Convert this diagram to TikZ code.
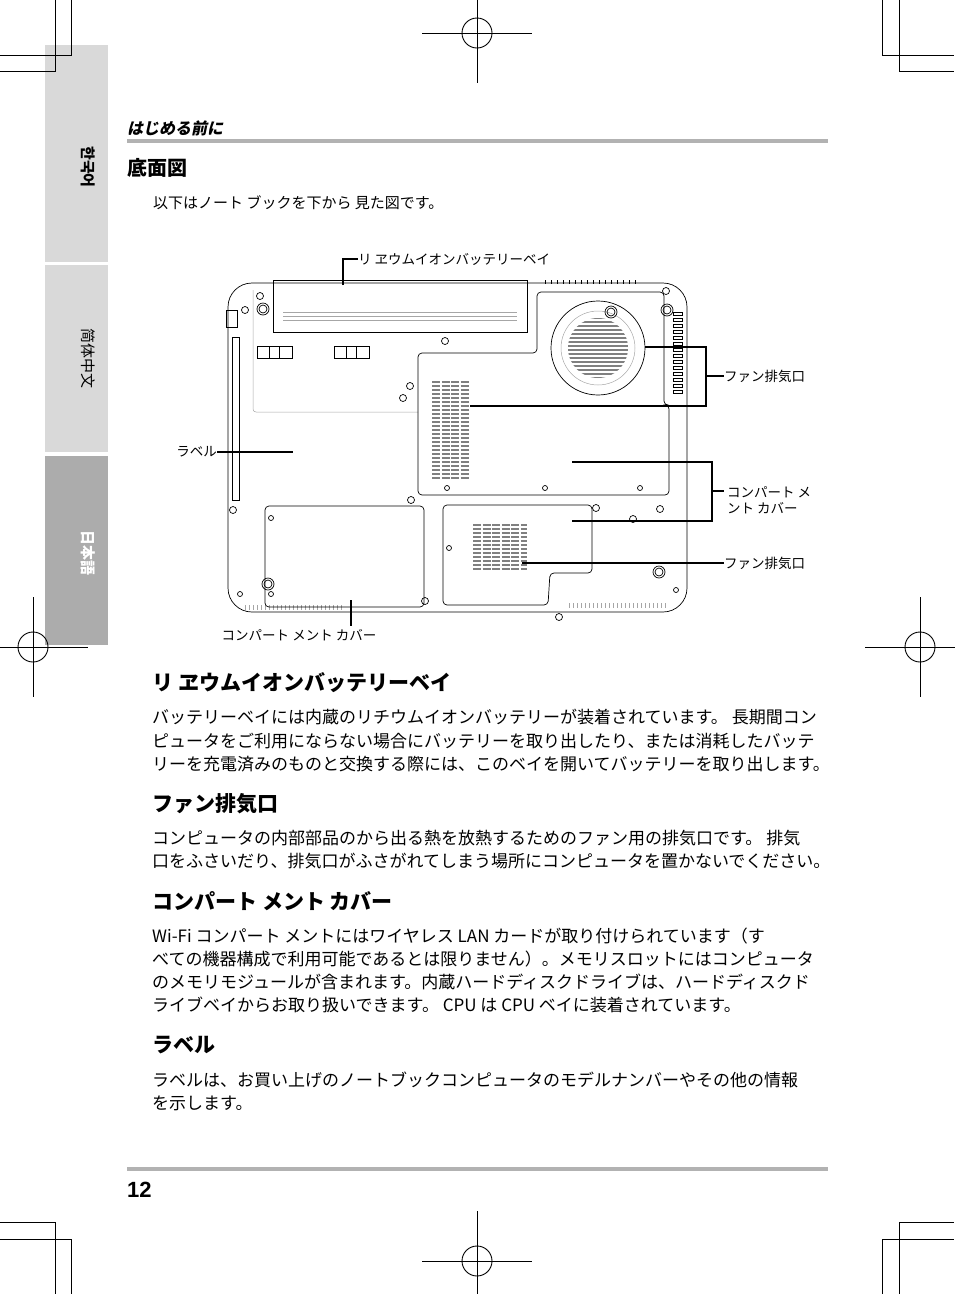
\documentclass[tikz,border=0pt]{standalone}
\usepackage{fontspec}
\setmainfont{Noto Sans CJK JP}
\newfontfamily\jpslant[FakeSlant=0.2]{Noto Sans CJK JP}
\newfontfamily\krfont{Noto Sans CJK KR}
\newfontfamily\scfont{Noto Sans CJK SC}
\setsansfont{Liberation Sans}

\begin{document}
\begin{tikzpicture}[x=1pt,y=-1pt]
\def\bodyfont{\fontsize{17}{20}\selectfont}
\def\headfont{\fontsize{21}{24}\selectfont\bfseries}
\def\callfont{\fontsize{13.5}{16}\selectfont}
\tikzset{
  crop/.style={line width=0.9pt},
  part/.style={line width=0.7pt},
  faint/.style={line width=0.5pt, gray!70},
  call/.style={line width=1.3pt},
  body/.style={anchor=west, inner sep=0pt, font=\bodyfont},
  head/.style={anchor=west, inner sep=0pt, font=\headfont},
  callout/.style={anchor=west, inner sep=0pt, font=\callfont},
  tab/.style={rotate=-90, inner sep=0pt, font=\fontsize{15}{18}\selectfont\bfseries}
}
\useasboundingbox (0,0) rectangle (954,1294);

% SIDE TABS
\fill[gray!30] (45,45) rectangle (108,262);
\fill[gray!30] (45,265) rectangle (108,452);
\fill[gray!65] (45,456) rectangle (108,645);
\node[tab] (tabkr) at (88,167) {\krfont 한국어};
\node[tab, font=\fontsize{15}{18}\selectfont] (tabsc) at (88,358) {\scfont 简体中文};
\node[tab, text=white] (tabjp) at (88,553) {日本語};

% CROP MARKS
\draw[crop] (55,0) -- (55,71) -- (0,71);
\draw[crop] (71,0) -- (71,55) -- (0,55);
\draw[crop] (899,0) -- (899,71) -- (954,71);
\draw[crop] (882,0) -- (882,55) -- (954,55);
\draw[crop] (55,1294) -- (55,1222) -- (0,1222);
\draw[crop] (71,1294) -- (71,1239) -- (0,1239);
\draw[crop] (882,1294) -- (882,1239) -- (954,1239);
\draw[crop] (899,1294) -- (899,1222) -- (954,1222);
\foreach \cx/\cy in {477/33, 477/1261, 33/647, 920/647} {
  \draw[crop] (\cx,\cy) circle (15);
  \draw[crop] (\cx-55,\cy) -- (\cx+55,\cy);
  \draw[crop] (\cx,\cy-50) -- (\cx,\cy+50);
}

% HEADER
\node[anchor=west, inner sep=0pt, font=\fontsize{16}{18}\selectfont\jpslant\bfseries] (chap) at (127,128) {はじめる前に};
\fill[gray!60] (127,139) rectangle (828,143);
\node[anchor=west, inner sep=0pt, font=\fontsize{20}{24}\selectfont\bfseries] (title) at (127,168) {底面図};
\node[anchor=west, inner sep=0pt, font=\fontsize{15}{18}\selectfont] (intro) at (153,203) {以下はノート ブックを下から 見た図です。};

% LAPTOP BODY
\draw[part, rounded corners=24] (228,283) rectangle (687,612);
\draw[faint, rounded corners=3] (253,290) -- (253,412) -- (418,412);
\draw[part] (273,280) rectangle (527,332);
\foreach \ly in {312,316,320} \draw[faint] (283,\ly) -- (517,\ly);
\foreach \vx in {545,551,...,635} \draw[part] (\vx,280) -- (\vx,284);
\draw[part] (226,310) rectangle (237,327);
\draw[part] (232,337) rectangle (239,500);
\foreach \vy in {312,318,...,390} \draw[part] (673,\vy) rectangle (682,\vy+3);
\foreach \vx in {245,249,...,341} \draw[faint] (\vx,605) -- (\vx,610);
\foreach \vx in {569,573,...,665} \draw[faint] (\vx,603) -- (\vx,608);

% latches
\foreach \lx in {257,334} {
  \draw[part] (\lx,346) rectangle +(35,12);
  \draw[part] (\lx+12,346) -- +(0,12);
  \draw[part] (\lx+22,346) -- +(0,12);
}

% fan and cpu cover
\draw[part, rounded corners=4] (418,353) -- (537,353) -- (537,292) -- (664,292) -- (664,405) -- (669,405) -- (669,495) -- (418,495) -- cycle;
\draw[part] (598,348) circle (47);
\draw[faint] (598,348) circle (37);
\begin{scope}
\clip (598,348) circle (30);
\foreach \fy in {318,322,...,378} \draw[line width=1.2pt, gray] (560,\fy) -- (636,\fy);
\end{scope}
\foreach \gy in {382,386,...,478} \draw[line width=1.3pt, gray, dash pattern=on 8pt off 1.5pt] (432,\gy) -- (470,\gy);

% lower covers
\draw[part, rounded corners=4] (265,506) rectangle (424,607);
\draw[part, rounded corners=4] (443,505) -- (592,505) -- (592,573) -- (550,573) -- (548,605) -- (443,605) -- cycle;
\foreach \gy in {525,529,...,572} \draw[line width=1.3pt, gray, dash pattern=on 8pt off 1.5pt] (473,\gy) -- (527,\gy);

% screws
\foreach \sx/\sy in {263/309, 667/310, 611/312, 268/584, 659/572} {
  \draw[part] (\sx,\sy) circle (6); \draw[part] (\sx,\sy) circle (4);
}
\foreach \sx/\sy in {445/341, 410/386, 403/398, 666/291, 245/310, 260/296, 411/500, 596/508, 633/519, 233/510, 660/509, 425/601, 559/617} \draw[part] (\sx,\sy) circle (3.5);
\foreach \sx/\sy in {447/488, 545/488, 640/488, 271/518, 271/594, 449/548, 676/590, 240/594} \draw[part] (\sx,\sy) circle (2.5);

% CALLOUTS
\coordinate (battpt) at (343,285);
\node[callout] (batt) at (358,259) {リ ヱウムイオンバッテリーベイ};
\draw[call] (battpt) |- (batt.west);

\coordinate (fan1) at (645,347);
\coordinate (fan2) at (470,406);
\node[callout] (fanlbl) at (724,376) {ファン排気口};
\draw[call] (fan1) -- (706,347) -- (706,406) -- (fan2);
\draw[call] (706,376) -- (fanlbl.west);

\node[callout, anchor=east] (label) at (217,452) {ラベル};
\coordinate (labelpt) at (293,452);
\draw[call] (label.east) -- (labelpt);

\coordinate (cov1) at (572,462);
\coordinate (cov2) at (572,521);
\node[callout, align=left] (covlbl) at (727,500) {コンパート メ\\ント カバー};
\draw[call] (cov1) -- (712,462) -- (712,521) -- (cov2);
\draw[call] (712,491) -- (724,491);

\coordinate (fan3) at (522,563);
\node[callout] (fanlbl2) at (724,563) {ファン排気口};
\draw[call] (fan3) -- (fanlbl2.west);

\coordinate (cov3) at (351,600);
\node[callout, anchor=center] (covlbl2) at (299,635) {コンパート メント カバー};
\draw[call] (cov3) -- (351,626);

% TEXT SECTIONS
\node[head] (h1) at (152,683) {リ ヱウムイオンバッテリーベイ};
\node[body] (b11) at (152,717) {バッテリーベイには内蔵のリチウムイオンバッテリーが装着されています。 長期間コン};
\node[body] (b12) at (152,741) {ピュータをご利用にならない場合にバッテリーを取り出したり、または消耗したバッテ};
\node[body] (b13) at (152,764) {リーを充電済みのものと交換する際には、このベイを開いてバッテリーを取り出します。};

\node[head] (h2) at (152,804) {ファン排気口};
\node[body] (b21) at (152,838) {コンピュータの内部部品のから出る熱を放熱するためのファン用の排気口です。 排気};
\node[body] (b22) at (152,861) {口をふさいだり、排気口がふさがれてしまう場所にコンピュータを置かないでください。};

\node[head] (h3) at (152,901) {コンパート メント カバー};
\node[body] (b31) at (152,936) {Wi-Fi コンパート メントにはワイヤレス LAN カードが取り付けられています（す};
\node[body] (b32) at (152,959) {べての機器構成で利用可能であるとは限りません）。メモリスロットにはコンピュータ};
\node[body] (b33) at (152,982) {のメモリモジュールが含まれます。内蔵ハードディスクドライブは、ハードディスクド};
\node[body] (b34) at (152,1005) {ライブベイからお取り扱いできます。 CPU は CPU ベイに装着されています。};

\node[head] (h4) at (152,1045) {ラベル};
\node[body] (b41) at (152,1080) {ラベルは、お買い上げのノートブックコンピュータのモデルナンバーやその他の情報};
\node[body] (b42) at (152,1103) {を示します。};

% FOOTER
\fill[gray!60] (127,1167) rectangle (828,1171);
\node[anchor=west, inner sep=0pt, font=\fontsize{22}{24}\selectfont\sffamily\bfseries] (page) at (127,1190) {12};
\end{tikzpicture}
\end{document}
